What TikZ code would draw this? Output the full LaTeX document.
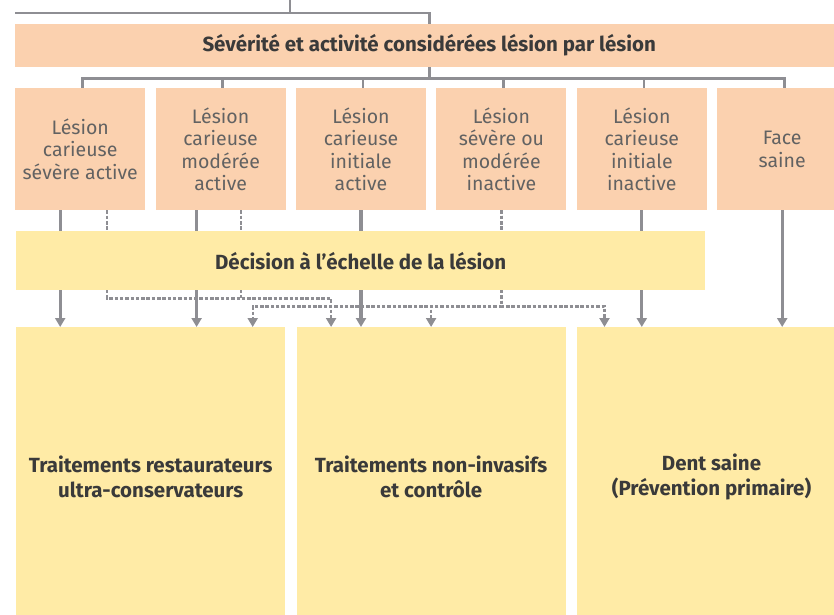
\documentclass[tikz,border=0pt]{standalone}
\usepackage{fontspec}
\setmainfont{Fira Sans}
\usetikzlibrary{positioning,backgrounds,arrows.meta}
\definecolor{peach}{HTML}{FBD1AF}
\definecolor{pale}{HTML}{FFEBA6}
\definecolor{wirec}{HTML}{8E8E93}
\definecolor{ink}{HTML}{3A3A3A}
\definecolor{softink}{HTML}{626262}
\tikzstyle{lbox}=[fill=peach,text=softink,inner sep=0pt,minimum width=130pt,minimum height=122pt,align=center,font=\fontsize{19.5}{22.5}\selectfont]
\tikzstyle{band}=[fill=peach,text=ink,inner sep=0pt,minimum width=828pt,minimum height=43pt,font=\bfseries\fontsize{20.5}{24}\selectfont]
\tikzstyle{dbox}=[fill=pale,text=ink,inner sep=0pt,minimum width=689pt,minimum height=59pt,font=\bfseries\fontsize{20.5}{24}\selectfont]
\tikzstyle{ybox}=[fill=pale,text=ink,inner sep=0pt,minimum width=269pt,minimum height=300pt,align=center,font=\bfseries\fontsize{20.5}{25}\selectfont]
\tikzstyle{wire}=[draw=wirec,line width=2.6pt]
\tikzstyle{sline}=[draw=wirec,line width=3.2pt,-{Triangle[width=10pt,length=9pt]}]
\tikzstyle{dline}=[draw=wirec,line width=2.2pt,dash pattern=on 3.5pt off 1.8pt,-{Triangle[width=10pt,length=9pt]}]
\newcommand{\drawarrows}[2][\empty]{
	\foreach \a/\b in {#2}{
		\draw[#1] (\a) -- (\a |- \b.north);
	}
}

\begin{document}
\begin{tikzpicture}[x=1pt,y=-1pt]
\useasboundingbox (0,0) rectangle (834,614);

\node[band,anchor=north west] (sev) at (15,24) {Sévérité et activité considérées lésion par lésion};

\node[lbox,anchor=north west] (l1) at (15,88) {Lésion\\carieuse\\sévère active};
\node[lbox,right=10pt of l1] (l2) {Lésion\\carieuse\\modérée\\active};
\node[lbox,right=10pt of l2] (l3) {Lésion\\carieuse\\initiale\\active};
\node[lbox,right=10pt of l3] (l4) {Lésion\\sévère ou\\modérée\\inactive};
\node[lbox,right=10pt of l4] (l5) {Lésion\\carieuse\\initiale\\inactive};
\node[lbox,right=10pt of l5] (l6) {Face\\saine};

\node[dbox,anchor=north west] (dec) at (16,231) {Décision à l’échelle de la lésion};

\node[ybox,anchor=north west] (ta) at (16,327) {Traitements restaurateurs\\ultra-conservateurs};
\node[ybox,right=11pt of ta] (tb) {Traitements non-invasifs\\et contrôle};
\node[ybox,right=11pt of tb] (tc) {Dent saine\\(Prévention primaire)};

\coordinate (feed) at (290,0);
\coordinate (rail) at (15,13);
\coordinate (s1) at ([xshift=-20pt]l1.south);
\coordinate (s2) at ([xshift=-24pt]l2.south);
\coordinate (q1) at ([xshift=27pt]l1.south);
\coordinate (q2) at ([xshift=20pt]l2.south);
\coordinate (ra) at ([xshift=102pt]ta.north);
\coordinate (rb) at ([xshift=-100pt]tb.north);
\coordinate (rc) at ([xshift=-107pt]tc.north);

\begin{scope}[on background layer]
% feeding lines
\draw[wire] (rail) -| (sev.north);
\draw[wire] (feed) -- (feed |- rail);
\foreach \n in {l1,l2,l3,l4,l5,l6}{
	\draw[wire] (sev.south) -- +(0,11) -| ([xshift=2pt]\n.north);
}
% direct choices
\drawarrows[sline]{s1/ta,s2/ta,l3.south/tb,l5.south/tc,l6.south/tc}
% choices made lesion by lesion
\draw[dline] (q1) -- +(0,88) -| (rb);
\draw[dline,-] (q2) -- +(0,88);
\foreach \t in {ra,tb.north,rc}{
	\draw[dline] (l4.south) -- +(0,96) -| (\t);
}
\end{scope}
\end{tikzpicture}
\end{document}
